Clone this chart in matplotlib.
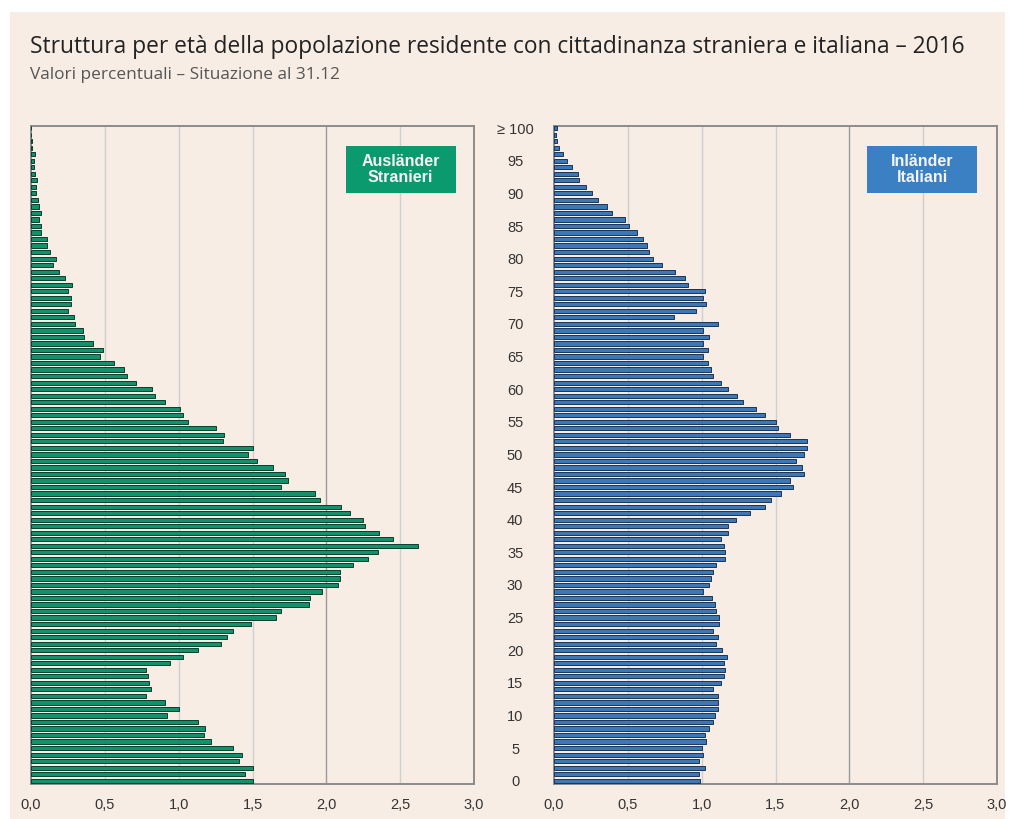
import matplotlib
matplotlib.use('Agg')
import matplotlib.pyplot as plt
from matplotlib.patches import Rectangle

# età 0..100 (100 = "100 e oltre")
eta = list(range(0, 101))

# quote percentuali - cittadini stranieri (età 0..100)
stranieri = [1.50, 1.45, 1.50, 1.41, 1.43, 1.37, 1.22, 1.17, 1.18, 1.13,
             0.92, 1.00, 0.91, 0.78, 0.81, 0.80, 0.79, 0.78, 0.94, 1.03,
             1.13, 1.29, 1.33, 1.37, 1.49, 1.66, 1.69, 1.88, 1.89, 1.97,
             2.08, 2.09, 2.09, 2.18, 2.28, 2.35, 2.62, 2.45, 2.36, 2.26,
             2.25, 2.16, 2.10, 1.96, 1.92, 1.69, 1.74, 1.72, 1.64, 1.53,
             1.47, 1.50, 1.30, 1.31, 1.25, 1.06, 1.03, 1.01, 0.91, 0.84,
             0.82, 0.71, 0.65, 0.63, 0.56, 0.47, 0.49, 0.42, 0.36, 0.35,
             0.30, 0.29, 0.25, 0.27, 0.27, 0.25, 0.275, 0.23, 0.19, 0.15,
             0.17, 0.13, 0.11, 0.11, 0.07, 0.065, 0.056, 0.065, 0.054, 0.045,
             0.032, 0.034, 0.04, 0.025, 0.02, 0.022, 0.03, 0.007, 0.005, 0.003,
             0.002]

# quote percentuali - cittadini italiani (età 0..100)
italiani = [0.99, 0.98, 1.02, 0.98, 1.01, 1.00, 1.03, 1.02, 1.05, 1.08,
            1.09, 1.11, 1.11, 1.11, 1.08, 1.13, 1.15, 1.16, 1.15, 1.17,
            1.14, 1.10, 1.11, 1.08, 1.12, 1.12, 1.10, 1.09, 1.07, 1.01,
            1.05, 1.06, 1.08, 1.10, 1.16, 1.16, 1.15, 1.13, 1.18, 1.18,
            1.23, 1.33, 1.43, 1.47, 1.54, 1.62, 1.60, 1.69, 1.68, 1.64,
            1.69, 1.71, 1.71, 1.60, 1.52, 1.50, 1.43, 1.37, 1.28, 1.24,
            1.18, 1.13, 1.08, 1.06, 1.04, 1.01, 1.04, 1.01, 1.05, 1.01,
            1.11, 0.81, 0.96, 1.03, 1.01, 1.02, 0.91, 0.89, 0.82, 0.73,
            0.67, 0.64, 0.63, 0.60, 0.56, 0.51, 0.48, 0.39, 0.36, 0.30,
            0.26, 0.22, 0.17, 0.16, 0.12, 0.09, 0.06, 0.034, 0.02, 0.014,
            0.018]

x_ticks = [0.0, 0.5, 1.0, 1.5, 2.0, 2.5, 3.0]
x_labels = ['0,0', '0,5', '1,0', '1,5', '2,0', '2,5', '3,0']
y_ticks = list(range(0, 101, 5))
y_labels = [str(v) for v in y_ticks[:-1]] + ['≥ 100']

titolo = 'Struttura per età della popolazione residente con cittadinanza straniera e italiana – 2016'
sottotitolo = 'Valori percentuali – Situazione al 31.12'

bg = '#f8ede4'

fig = plt.figure(figsize=(10.15, 8.19), dpi=100)
fig.patch.set_facecolor('white')
sfondo = Rectangle((10 / 1015, 0), 995 / 1015, 1 - 12 / 819,
                   transform=fig.transFigure, facecolor=bg,
                   edgecolor='none', zorder=-10)
fig.patches.append(sfondo)

fig.text(30 / 1015, 1 - 53 / 819, titolo, fontsize=16.4, family='Open Sans',
         color='#222222', va='baseline', ha='left')
fig.text(30 / 1015, 1 - 79 / 819, sottotitolo, fontsize=12.4, family='Open Sans',
         color='#555555', va='baseline', ha='left')

ax1 = fig.add_axes([31 / 1015, 1 - 784 / 819, 443 / 1015, 658.5 / 819])
ax2 = fig.add_axes([554 / 1015, 1 - 784 / 819, 443 / 1015, 658.5 / 819])

pannelli = [
    (ax1, stranieri, '#11926b', '#0a3f30', '#0a9a6e', 'Ausländer\nStranieri', 0.710),
    (ax2, italiani, '#3c78b6', '#1a3558', '#3a80c2', 'Inländer\nItaliani', 0.7065),
]

for ax, valori, col, bordo, col_box, etichetta, bx in pannelli:
    ax.set_facecolor(bg)
    ax.barh(eta, valori, height=0.64, color=col, edgecolor=bordo,
            linewidth=0.7, zorder=3)
    ax.set_xlim(0, 3.0)
    ax.set_ylim(-0.5, 100.4)
    for xv in x_ticks[1:-1]:
        ax.axvline(xv, color='#9a9a9a' if xv == 2.0 else '#cfcfcf',
                   linewidth=1.0, zorder=1)
    for sp in ax.spines.values():
        sp.set_color('#8c8c8c')
        sp.set_linewidth(1.4)
    ax.set_xticks(x_ticks)
    ax.set_xticklabels(x_labels, family='Liberation Sans', fontsize=10.5,
                       color='#333333')
    ax.tick_params(axis='x', length=0, pad=10)
    ax.add_patch(Rectangle((bx, 0.8975), 0.249, 0.0715,
                           transform=ax.transAxes, facecolor=col_box,
                           edgecolor='none', zorder=5))
    ax.text(bx + 0.1245, 0.933, etichetta, transform=ax.transAxes,
            ha='center', va='center', color='#f4f4f4', fontsize=11.5,
            fontweight='bold', family='Liberation Sans', linespacing=1.1,
            zorder=6)

ax1.set_yticks([])
ax2.set_yticks(y_ticks)
ax2.set_yticklabels(y_labels, family='Liberation Sans', fontsize=10.5,
                    color='#333333', ha='center')
ax2.tick_params(axis='y', length=0, pad=28)

plt.savefig('out.png', dpi=100, facecolor=fig.get_facecolor())
